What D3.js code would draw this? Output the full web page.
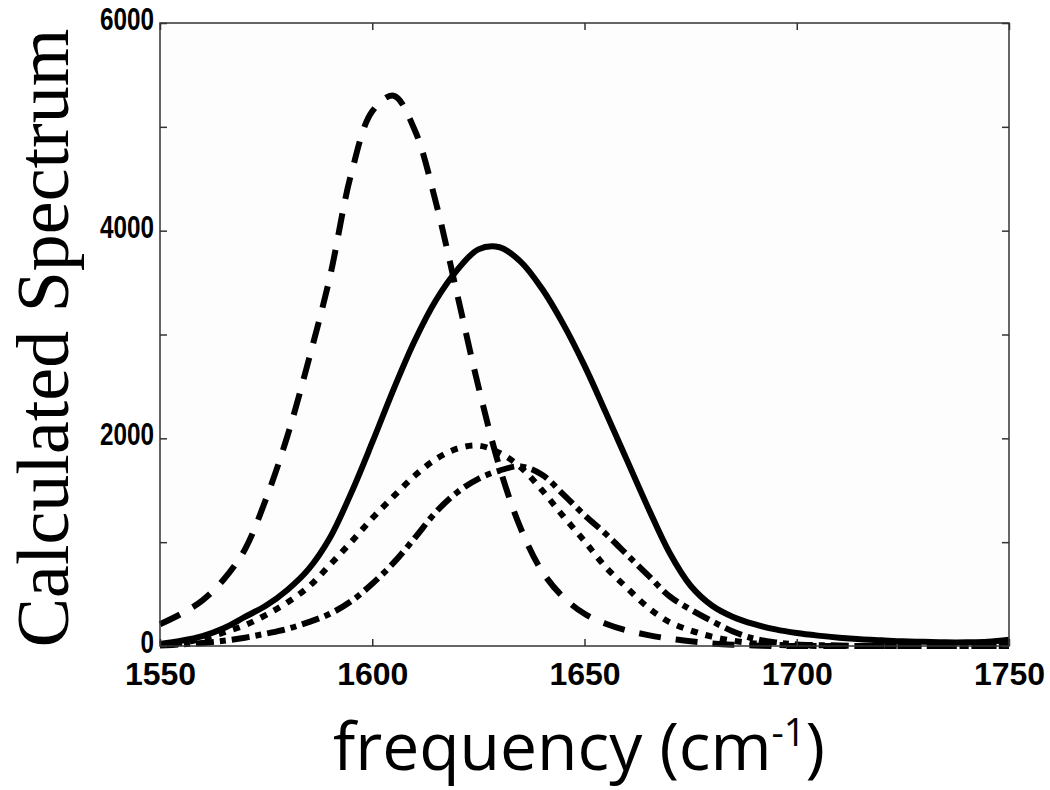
<!DOCTYPE html>
<html>
<head>
<meta charset="utf-8">
<script src="https://cdn.jsdelivr.net/npm/d3@7"></script>
<style>
  html, body { margin: 0; padding: 0; background: #ffffff; }
  svg { display: block; }
</style>
</head>
<body>
<svg id="chart" width="1050" height="790"></svg>
<script>
// ---------------- data ----------------
const frequency = [1550,1555,1560,1565,1570,1575,1580,1585,1590,1595,
                   1600,1605,1610,1615,1620,1625,1630,1635,1640,1645,
                   1650,1655,1660,1665,1670,1675,1680,1685,1690,1695,
                   1700,1705,1710,1715,1720,1725,1730,1735,1740,1745,1750];

const dashedSeries = [210,310,440,640,930,1420,2020,2750,3550,4540,
                      5150,5300,4970,4270,3390,2500,1720,1130,720,470,
                      310,215,150,105,70,45,25,12,5,0,
                      0,0,0,0,0,0,0,0,0,0,0];

const solidSeries = [20,50,95,170,280,390,540,740,1040,1470,
                     1960,2470,2940,3330,3620,3820,3840,3700,3440,3100,
                     2700,2250,1790,1330,900,580,390,280,210,160,
                     125,100,80,65,55,45,40,35,35,40,60];

const dottedSeries = [10,30,70,130,200,300,420,570,780,1000,
                      1230,1440,1640,1800,1900,1930,1860,1720,1500,1250,
                      1010,760,560,370,230,150,90,50,25,12,
                      5,0,0,0,0,0,0,0,0,0,0];

const dashDotSeries = [5,15,30,50,80,120,165,230,310,430,
                       600,800,1040,1290,1480,1610,1690,1730,1650,1460,
                       1260,1080,880,680,480,350,240,140,70,35,
                       15,8,5,0,0,0,0,0,0,0,0];

const xTicks = [1550,1600,1650,1700,1750];
const yTicks = [0,1000,2000,3000,4000,5000,6000];
const yTickLabels = [0,2000,4000,6000];

const xLabelMain = "frequency (cm";
const xLabelSup = "-1";
const xLabelEnd = ")";
const yLabel = "Calculated Spectrum";

// ---------------- layout ----------------
const svg = d3.select("#chart");
const plotLeft = 160, plotRight = 1009, plotTop = 23, plotBottom = 646;

const x = d3.scaleLinear().domain([1550, 1750]).range([plotLeft, plotRight]);
const y = d3.scaleLinear().domain([0, 6000]).range([plotBottom, plotTop]);

// plot background
svg.append("rect")
  .attr("x", plotLeft).attr("y", plotTop)
  .attr("width", plotRight - plotLeft).attr("height", plotBottom - plotTop)
  .attr("fill", "#fdfdfd");

// ---------------- curves ----------------
const series = [
  { values: dashedSeries,  dash: "22,15" },
  { values: solidSeries,   dash: null },
  { values: dottedSeries,  dash: "7,8" },
  { values: dashDotSeries, dash: "18,6,6,6" }
];

const line = d3.line()
  .x((d, i) => x(frequency[i]))
  .y(d => y(d))
  .curve(d3.curveCatmullRom.alpha(0.5));

const curves = svg.append("g");
series.forEach(s => {
  curves.append("path")
    .datum(s.values)
    .attr("d", line)
    .attr("fill", "none")
    .attr("stroke", "#000")
    .attr("stroke-width", 6)
    .attr("stroke-linecap", "butt")
    .attr("stroke-linejoin", "round")
    .attr("stroke-dasharray", s.dash);
});

// ---------------- axes ----------------
const tickLen = 7;
const frameColor = "#333";

const axisBottom = d3.axisBottom(x).tickValues(xTicks)
  .tickSizeInner(-tickLen).tickSizeOuter(0).tickPadding(16)
  .tickFormat(d3.format("d"));
const axisTop = d3.axisTop(x).tickValues(xTicks)
  .tickSizeInner(-tickLen).tickSizeOuter(0).tickFormat("");
const axisLeft = d3.axisLeft(y).tickValues(yTicks)
  .tickSizeInner(-tickLen).tickSizeOuter(0).tickPadding(6)
  .tickFormat(d => yTickLabels.includes(d) ? String(d) : "");
const axisRight = d3.axisRight(y).tickValues(yTicks)
  .tickSizeInner(-tickLen).tickSizeOuter(0).tickFormat("");

function styleAxis(g) {
  g.select(".domain").remove();
  g.selectAll(".tick line").attr("stroke", frameColor).attr("stroke-width", 1.5);
}

const gB = svg.append("g").attr("transform", `translate(0,${plotBottom})`).call(axisBottom).call(styleAxis);
const gT = svg.append("g").attr("transform", `translate(0,${plotTop})`).call(axisTop).call(styleAxis);
const gL = svg.append("g").attr("transform", `translate(${plotLeft},0)`).call(axisLeft).call(styleAxis);
const gR = svg.append("g").attr("transform", `translate(${plotRight},0)`).call(axisRight).call(styleAxis);

gB.selectAll(".tick text")
  .attr("fill", "#000")
  .style("font-family", "'Liberation Sans', Arial, sans-serif")
  .style("font-weight", "bold")
  .style("font-size", "32px");

gL.selectAll(".tick text")
  .attr("fill", "#000")
  .attr("dy", "0.2em")
  .style("font-family", "'Liberation Sans', Arial, sans-serif")
  .style("font-weight", "bold")
  .style("font-size", "32px")
  .each(function() {
    const t = d3.select(this);
    const n = t.text().length;
    if (n > 0) t.attr("textLength", n * 13.5).attr("lengthAdjust", "spacingAndGlyphs");
  });

// frame
svg.append("rect")
  .attr("x", plotLeft).attr("y", plotTop)
  .attr("width", plotRight - plotLeft).attr("height", plotBottom - plotTop)
  .attr("fill", "none")
  .attr("stroke", frameColor)
  .attr("stroke-width", 1.5);

// ---------------- labels ----------------
const xl = svg.append("text")
  .attr("x", 579).attr("y", 770)
  .attr("text-anchor", "middle")
  .style("font-family", "'Open Sans', 'Noto Sans', sans-serif")
  .style("font-size", "66px")
  .attr("fill", "#000");
xl.append("tspan").text(xLabelMain);
xl.append("tspan").attr("dy", -24).style("font-size", "38px").text(xLabelSup);
xl.append("tspan").attr("dy", 24).text(xLabelEnd);

svg.append("text")
  .attr("transform", `translate(68,338) rotate(-90)`)
  .attr("text-anchor", "middle")
  .style("font-family", "'Liberation Serif', 'Times New Roman', serif")
  .style("font-size", "74px")
  .attr("fill", "#000")
  .text(yLabel);
</script>
</body>
</html>
